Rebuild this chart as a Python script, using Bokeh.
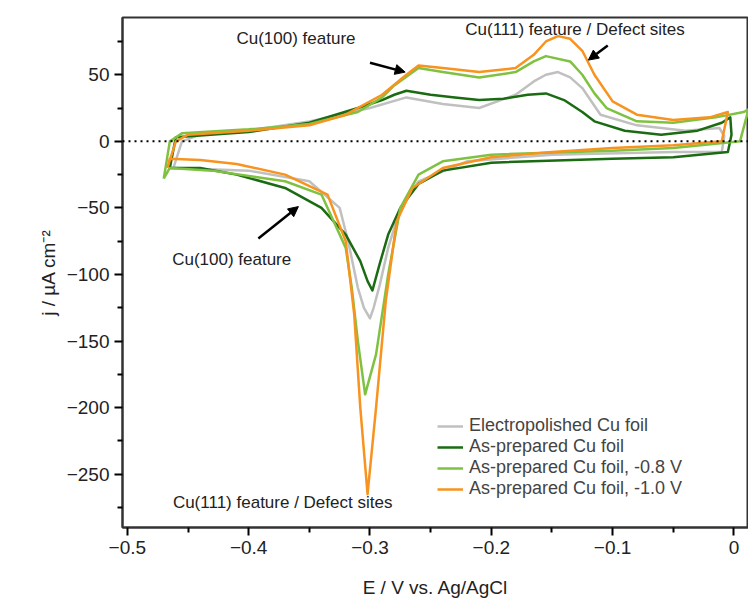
from bokeh.plotting import figure
from bokeh.models import Span, Arrow, NormalHead, Label, Legend, LegendItem, FixedTicker
from bokeh.embed import file_html
from bokeh.resources import INLINE

# Electropolished Cu foil
ep_x = [-0.462, -0.455, -0.44, -0.4, -0.35, -0.3, -0.27, -0.24, -0.21, -0.18, -0.165, -0.155, -0.145, -0.135, -0.125, -0.11, -0.08, -0.04, -0.012, -0.008,
        -0.01, -0.05, -0.15, -0.22, -0.26, -0.275, -0.285, -0.292, -0.297, -0.3, -0.305, -0.31, -0.318, -0.325, -0.35, -0.4, -0.46, -0.462]
ep_y = [-20, 0, 5, 8, 15, 25, 33, 28, 25, 35, 45, 50, 52, 48, 40, 20, 12, 8, 10, 4,
        -8, -8, -10, -15, -30, -50, -80, -108, -125, -133, -125, -110, -75, -50, -30, -22, -20, -20]

# As-prepared Cu foil
ap_x = [-0.465, -0.46, -0.4, -0.35, -0.31, -0.29, -0.28, -0.27, -0.25, -0.23, -0.21, -0.19, -0.17, -0.155, -0.14, -0.125, -0.115, -0.09, -0.06, -0.03, -0.01, -0.003, -0.002,
        -0.005, -0.05, -0.1, -0.2, -0.24, -0.26, -0.275, -0.285, -0.292, -0.298, -0.302, -0.308, -0.32, -0.34, -0.37, -0.41, -0.44, -0.465]
ap_y = [-20, 3, 7, 14, 25, 31, 35, 38, 35, 33, 31, 32, 35, 36, 31, 22, 15, 8, 5, 8, 14, 18, 5,
        -8, -12, -13, -16, -22, -32, -50, -70, -92, -112, -105, -90, -70, -50, -35, -25, -20, -20]

# As-prepared Cu foil, -0.8 V
a8_x = [-0.47, -0.465, -0.455, -0.4, -0.35, -0.31, -0.29, -0.28, -0.26, -0.24, -0.21, -0.18, -0.165, -0.155, -0.135, -0.125, -0.115, -0.105, -0.08, -0.05, -0.015, 0.008, 0.012,
        0.005, -0.05, -0.1, -0.2, -0.24, -0.26, -0.275, -0.285, -0.295, -0.304, -0.31, -0.315, -0.32, -0.34, -0.37, -0.43, -0.465, -0.47]
a8_y = [-28, 0, 6, 9, 13, 22, 33, 42, 55, 52, 48, 52, 60, 64, 60, 50, 36, 25, 15, 14, 18, 22, 24,
        0, -5, -7, -10, -15, -25, -50, -100, -160, -190, -150, -110, -80, -40, -30, -22, -20, -28]

# As-prepared Cu foil, -1.0 V
a10_x = [-0.467, -0.46, -0.45, -0.4, -0.35, -0.32, -0.29, -0.27, -0.26, -0.24, -0.21, -0.18, -0.165, -0.155, -0.145, -0.135, -0.125, -0.115, -0.1, -0.08, -0.05, -0.02, -0.005,
         -0.01, -0.05, -0.1, -0.15, -0.2, -0.24, -0.265, -0.278, -0.287, -0.295, -0.302, -0.308, -0.313, -0.32, -0.335, -0.37, -0.41, -0.44, -0.465, -0.467]
a10_y = [-20, 0, 5, 8, 12, 20, 35, 50, 57, 55, 52, 55, 65, 75, 79, 77, 68, 50, 30, 20, 16, 18, 22,
         0, -3, -5, -8, -12, -20, -35, -60, -120, -200, -265, -200, -130, -75, -40, -25, -17, -14, -13, -20]

series = [("Electropolished Cu foil", ep_x, ep_y, "#c0c0c0"),
          ("As-prepared Cu foil", ap_x, ap_y, "#1a6b12"),
          ("As-prepared Cu foil, -0.8 V", a8_x, a8_y, "#7fc241"),
          ("As-prepared Cu foil, -1.0 V", a10_x, a10_y, "#f7931e")]

FONT = "Liberation Sans"

p = figure(width=748, height=600, x_range=(-0.504, 0.012), y_range=(-290, 93),
           output_backend="svg", toolbar_location=None,
           x_axis_label="E / V vs. Ag/AgCl", y_axis_label="j / µA cm⁻²",
           min_border_left=122, min_border_top=17, min_border_bottom=70, min_border_right=0)
p.grid.visible = False
p.outline_line_color = "#333333"
p.outline_line_width = 2

p.xaxis.ticker = FixedTicker(ticks=[-0.5, -0.4, -0.3, -0.2, -0.1, 0.0],
                             minor_ticks=[-0.45, -0.35, -0.25, -0.15, -0.05, 0.05])
p.yaxis.ticker = FixedTicker(ticks=[-250, -200, -150, -100, -50, 0, 50],
                             minor_ticks=[-275, -225, -175, -125, -75, -25, 25, 75])
for ax in (p.xaxis[0], p.yaxis[0]):
    ax.axis_line_width = 2
    ax.axis_line_color = "#333333"
    ax.major_tick_line_width = 2
    ax.minor_tick_line_width = 2
    ax.major_tick_out = 8
    ax.major_tick_in = 0
    ax.minor_tick_out = 5
    ax.minor_tick_in = 0
    ax.major_label_text_font = FONT
    ax.major_label_text_font_size = "19px"
    ax.major_label_text_color = "#222222"
    ax.axis_label_text_font = FONT
    ax.axis_label_text_font_size = "19px"
    ax.axis_label_text_font_style = "normal"
    ax.axis_label_text_color = "#222222"
p.xaxis.formatter.use_scientific = False
p.xaxis[0].axis_label_standoff = 20

p.add_layout(Span(location=0, dimension="width", line_dash="dotted", line_width=2, line_color="black"))

items = []
for name, xs, ys, col in series:
    r = p.line(xs, ys, line_color=col, line_width=2.5, line_join="round")
    items.append(LegendItem(label=name, renderers=[r]))

legend = Legend(items=items, location=(305, 18), background_fill_alpha=0, border_line_alpha=0,
                label_text_font=FONT, label_text_font_size="18px", glyph_width=26,
                spacing=-2, label_standoff=6)
p.add_layout(legend)

for x0, y0, x1, y1 in [(-0.30, 59, -0.271, 52), (-0.104, 72, -0.120, 61), (-0.392, -73, -0.359, -49)]:
    p.add_layout(Arrow(end=NormalHead(size=10, fill_color="black", line_color="black"),
                       x_start=x0, y_start=y0, x_end=x1, y_end=y1, line_width=2.5))

for txt, x, y in [("Cu(100) feature", -0.361, 77), ("Cu(111) feature / Defect sites", -0.131, 84),
                  ("Cu(100) feature", -0.414, -89), ("Cu(111) feature / Defect sites", -0.372, -271)]:
    p.add_layout(Label(x=x, y=y, text=txt, text_align="center", text_baseline="middle",
                       text_font=FONT, text_font_size="17px", text_color="#222222"))

open("out.html", "w").write(file_html(p, INLINE))
